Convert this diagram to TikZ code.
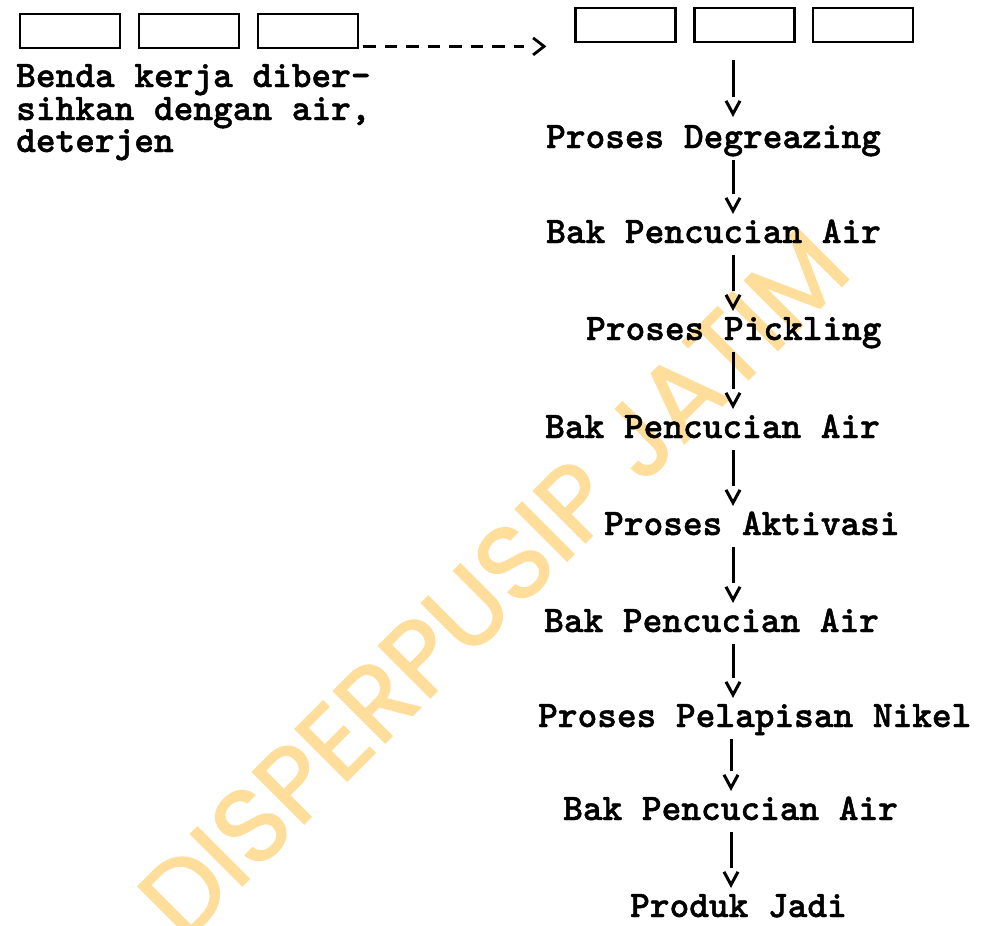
\documentclass[tikz,border=0pt]{standalone}
\usepackage{fontspec}
\usetikzlibrary{arrows.meta,calc}
\newfontfamily\wmfont{Poppins}[FakeBold=1.5]
\newfontfamily\tw{lmmonolt10-bold.otf}[FakeBold=1.2]
\definecolor{wmcol}{HTML}{FFDE9C}

\pgfdeclarearrow{
  name=TypeV,
  setup code={
    \pgfarrowssettipend{0pt}
    \pgfarrowssetlineend{-17pt}
    \pgfarrowssetbackend{-17pt}
  },
  drawing code={
    \pgfsetdash{}{0pt}
    \pgfsetmiterjoin
    \pgfpathmoveto{\pgfqpoint{-13pt}{7pt}}
    \pgfpathlineto{\pgfpointorigin}
    \pgfpathlineto{\pgfqpoint{-13pt}{-7pt}}
    \pgfusepathqstroke
  },
}
\pgfdeclarearrow{
  name=TypeG,
  setup code={
    \pgfarrowssettipend{0pt}
    \pgfarrowssetlineend{-20pt}
    \pgfarrowssetbackend{-20pt}
  },
  drawing code={
    \pgfsetdash{}{0pt}
    \pgfsetmiterjoin
    \pgfpathmoveto{\pgfqpoint{-11pt}{8.5pt}}
    \pgfpathlineto{\pgfpointorigin}
    \pgfpathlineto{\pgfqpoint{-11pt}{-8.5pt}}
    \pgfusepathqstroke
  },
}

\begin{document}
\begin{tikzpicture}[x=1pt,y=-1pt,
  lbl/.style={font=\tw\fontsize{37.5}{44}\selectfont, inner sep=0pt,
    text height=20pt, text depth=0pt, anchor=base west},
  box/.style={draw, line width=2.8pt, minimum width=100pt, minimum height=34pt, inner sep=0pt},
  conn/.style={line width=3pt, -{TypeV[]}, shorten <=12pt, shorten >=12pt},
  dconn/.style={line width=2.8pt, dash pattern=on 12.5pt off 9pt, -{TypeG[]}},
  wmk/.style={font=\wmfont\fontsize{105}{105}\selectfont, text=wmcol, inner sep=0pt}
]
\useasboundingbox (0,0) rectangle (983,926);
\clip (0,0) rectangle (983,926);

% watermark
\node[wmk, rotate=45, anchor=base west] (wm) at (184,944) {DISPERPUSIP JATIM};

% boxes
\node[box] (b1) at (70,31) {};
\node[box] (b2) at (189,31) {};
\node[box] (b3) at (308,31) {};
\node[box] (b4) at (625.5,25) {};
\node[box] (b5) at (744.5,25) {};
\node[box] (b6) at (863,25) {};

% left text
\node[lbl] (t1) at (16,87) {Benda kerja diber-};
\node[lbl] (t2) at (16,120) {sihkan dengan air,};
\node[lbl] (t3) at (16,152) {deterjen};

% process steps
\node[lbl] (deg)  at (546,148) {Proses Degreazing};
\node[lbl] (bak1) at (546,243) {Bak Pencucian Air};
\node[lbl] (pick) at (586,340) {Proses Pickling};
\node[lbl] (bak2) at (545,438) {Bak Pencucian Air};
\node[lbl] (akt)  at (604,535) {Proses Aktivasi};
\node[lbl] (bak3) at (544,632) {Bak Pencucian Air};
\node[lbl] (pel)  at (538,727) {Proses Pelapisan Nikel};
\node[lbl] (bak4) at (563,820) {Bak Pencucian Air};
\node[lbl] (prod) at (630,917) {Produk Jadi};

\coordinate (col) at (733,0);
\coordinate (colb) at (731,0);

% connectors
\draw[dconn] ($(b3.south east)+(4,-3)$) -- ($(b3.south east -| b4.west)+(-30,-3)$);
\draw[conn, shorten <=17pt, shorten >=14pt] (b5.south -| col) -- (deg.north -| col);
\draw[conn] (deg.south -| col) -- (bak1.north -| col);
\draw[conn] (bak1.south -| col) -- (pick.north -| col);
\draw[conn] (pick.south -| col) -- (bak2.north -| col);
\draw[conn] (bak2.south -| col) -- (akt.north -| col);
\draw[conn] (akt.south -| col) -- (bak3.north -| col);
\draw[conn] (bak3.south -| col) -- (pel.north -| col);
\draw[conn] (pel.south -| colb) -- (bak4.north -| colb);
\draw[conn] (bak4.south -| colb) -- (prod.north -| colb);
\end{tikzpicture}
\end{document}
